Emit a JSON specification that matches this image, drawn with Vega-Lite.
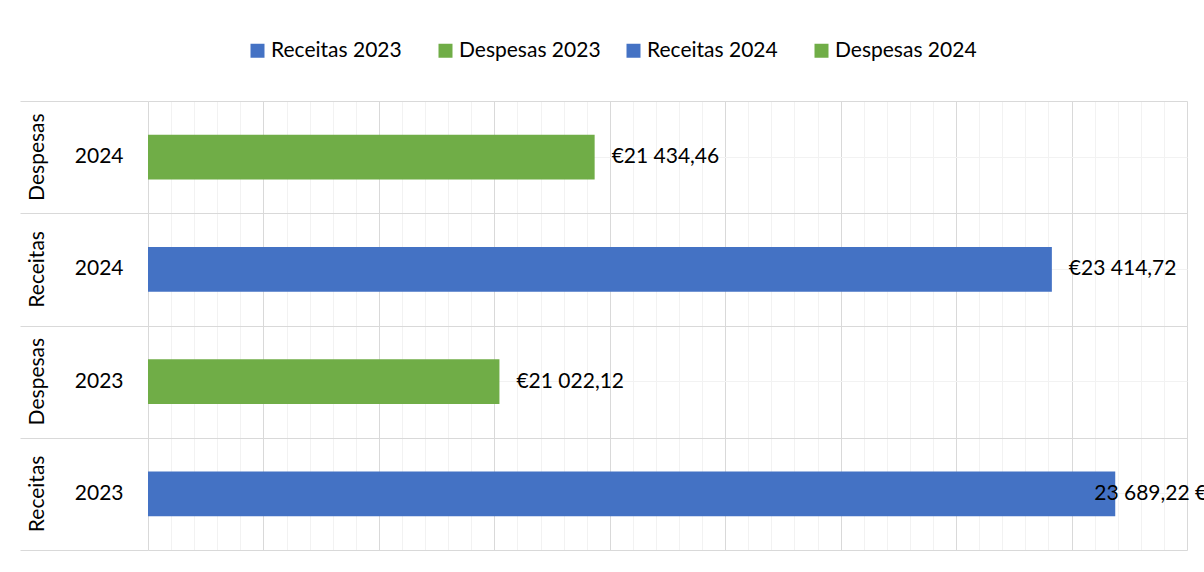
{
  "$schema": "https://vega.github.io/schema/vega-lite/v6.json",
  "width": 1039,
  "height": 449,
  "autosize": {"type": "none"},
  "padding": {"left": 148, "top": 101, "right": 17, "bottom": 22},
  "background": "#ffffff",
  "config": {
    "font": "Lato",
    "view": {"stroke": null},
    "axis": {"labelFont": "Lato", "labelColor": "#000000"},
    "text": {"font": "Lato"}
  },
  "data": {
    "values": [
      {"tipo": "Despesas", "ano": "2024", "key": "Despesas 2024", "valor": 21434.46, "label": "€21 434,46"},
      {"tipo": "Receitas", "ano": "2024", "key": "Receitas 2024", "valor": 23414.72, "label": "€23 414,72"},
      {"tipo": "Despesas", "ano": "2023", "key": "Despesas 2023", "valor": 21022.12, "label": "€21 022,12"},
      {"tipo": "Receitas", "ano": "2023", "key": "Receitas 2023", "valor": 23689.22, "label": "23 689,22 €"}
    ]
  },
  "layer": [
    {
      "mark": {"type": "bar", "height": {"band": 0.4}, "clip": true},
      "encoding": {
        "y": {
          "field": "key", "type": "nominal",
          "sort": ["Despesas 2024", "Receitas 2024", "Despesas 2023", "Receitas 2023"],
          "scale": {"paddingInner": 0, "paddingOuter": 0},
          "axis": {
            "orient": "left", "title": null,
            "labelExpr": "split(datum.value, ' ')[1]",
            "labelFontSize": 21, "labelPadding": 25,
            "ticks": false, "domain": false,
            "grid": true, "gridColor": "#f2f2f2", "gridWidth": 1
          }
        },
        "x": {
          "field": "valor", "type": "quantitative",
          "scale": {"domain": [19500, 24000], "nice": false, "zero": false},
          "axis": {
            "orient": "bottom", "title": null, "labels": false, "ticks": false, "domain": false,
            "grid": true, "gridColor": "#f2f2f2", "gridWidth": 1,
            "values": [19500,19600,19700,19800,19900,20000,20100,20200,20300,20400,20500,20600,20700,20800,20900,21000,21100,21200,21300,21400,21500,21600,21700,21800,21900,22000,22100,22200,22300,22400,22500,22600,22700,22800,22900,23000,23100,23200,23300,23400,23500,23600,23700,23800,23900,24000]
          }
        },
        "color": {
          "field": "key", "type": "nominal",
          "scale": {
            "domain": ["Receitas 2023", "Despesas 2023", "Receitas 2024", "Despesas 2024"],
            "range": ["#4472c4", "#70ad47", "#4472c4", "#70ad47"]
          },
          "legend": {
            "orient": "none", "legendX": 99, "legendY": -61,
            "direction": "horizontal", "columns": 4, "gridAlign": "all",
            "columnPadding": 22, "title": null,
            "symbolType": "square", "symbolSize": 196, "symbolStrokeWidth": 0,
            "labelFontSize": 21, "labelFont": "Lato", "labelColor": "#000000",
            "labelOffset": 3
          }
        }
      }
    },
    {
      "transform": [{"filter": "datum.key != 'Receitas 2023'"}],
      "mark": {"type": "text", "align": "left", "baseline": "middle", "dx": 17, "fontSize": 21, "color": "#000000"},
      "encoding": {
        "y": {
          "field": "key", "type": "nominal",
          "sort": ["Despesas 2024", "Receitas 2024", "Despesas 2023", "Receitas 2023"],
          "axis": {
            "orient": "left", "title": null,
            "labelExpr": "split(datum.value, ' ')[0]",
            "labelFontSize": 21, "labelAngle": 270, "labelAlign": "center", "labelBaseline": "middle",
            "labelPadding": 111,
            "ticks": false, "domain": false, "grid": false
          }
        },
        "x": {
          "field": "valor", "type": "quantitative",
          "axis": {
            "orient": "top", "title": null, "labels": false, "ticks": false, "domain": false,
            "grid": true, "gridColor": "#d9d9d9", "gridWidth": 1,
            "values": [19500,20000,20500,21000,21500,22000,22500,23000,23500,24000]
          }
        },
        "text": {"field": "label", "type": "nominal"}
      }
    },
    {
      "transform": [{"filter": "datum.key == 'Receitas 2023'"}],
      "mark": {"type": "text", "align": "left", "baseline": "middle", "dx": -21, "fontSize": 21, "color": "#000000"},
      "encoding": {
        "y": {
          "field": "key", "type": "nominal",
          "sort": ["Despesas 2024", "Receitas 2024", "Despesas 2023", "Receitas 2023"],
          "axis": {
            "orient": "left", "title": null, "labels": false, "domain": false,
            "ticks": true, "tickBand": "extent", "tickSize": 128, "tickColor": "#d9d9d9", "tickWidth": 1,
            "grid": true, "gridColor": "#d9d9d9", "gridWidth": 1
          }
        },
        "x": {"field": "valor", "type": "quantitative", "axis": null},
        "text": {"field": "label", "type": "nominal"}
      }
    }
  ],
  "resolve": {"axis": {"x": "independent", "y": "independent"}}
}
